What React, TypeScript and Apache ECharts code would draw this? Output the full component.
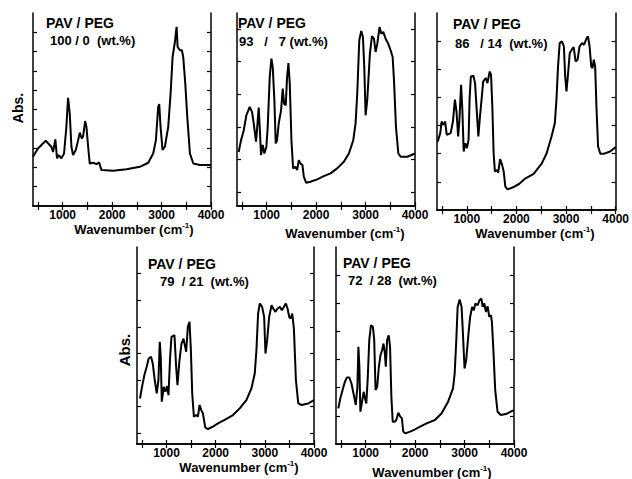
import React, { useEffect, useRef } from "react";
import * as echarts from "echarts";

const FONT = "'Liberation Sans', Arial, Helvetica, sans-serif";

const X_TICKS = [500, 1000, 1500, 2000, 2500, 3000, 3500, 4000];
const X_LABELS = [1000, 2000, 3000, 4000];

const P1_WN = [400, 500, 657, 771, 805, 852, 886, 920, 974, 1028, 1075, 1109, 1143, 1177, 1210, 1265, 1312, 1346, 1386, 1413, 1454, 1481, 1515, 1548, 1616, 1683, 1737, 1785, 2021, 2291, 2561, 2730, 2831, 2885, 2932, 2953, 2980, 3020, 3067, 3135, 3183, 3223, 3270, 3304, 3325, 3372, 3412, 3439, 3480, 3520, 3574, 3642, 3777, 4000];
const P1_ABS = [25.5, 29.8, 33.8, 30.7, 28, 34.5, 24.7, 26.4, 24.7, 27.2, 41, 56, 48, 30.7, 26.4, 29, 34, 38, 35, 36, 44, 41, 30.7, 22, 22.4, 21.7, 22.6, 18.6, 18.3, 19, 20.3, 22.4, 27.2, 34, 51.4, 52.8, 41, 29, 30.7, 41, 58.3, 77.2, 85, 92.8, 82.4, 80.7, 80.7, 77, 63.4, 46.2, 27.2, 22, 21.2, 21.2];

const P2_WN = [434, 481, 535, 589, 657, 704, 738, 785, 812, 839, 859, 886, 920, 954, 994, 1021, 1062, 1096, 1123, 1156, 1183, 1210, 1244, 1292, 1325, 1352, 1386, 1413, 1440, 1467, 1501, 1535, 1582, 1616, 1650, 1683, 1724, 1751, 1798, 1886, 2021, 2156, 2291, 2426, 2561, 2663, 2751, 2798, 2832, 2873, 2913, 2947, 2974, 3001, 3034, 3088, 3129, 3170, 3203, 3237, 3284, 3318, 3358, 3406, 3460, 3507, 3548, 3575, 3615, 3663, 3710, 3845, 4000];
const P2_ABS = [28, 34, 39, 47, 51.4, 48.8, 42.8, 33.3, 41.9, 51, 41, 26.4, 31.6, 27.2, 30.7, 41, 66.9, 76.4, 72, 54.8, 32.4, 34, 42.8, 49.7, 60.9, 53, 52.2, 66.9, 74, 63.4, 34, 19.5, 20.3, 18.6, 23.8, 22, 21.2, 15.2, 12, 12.6, 13.8, 15.5, 16.9, 19.5, 22.9, 27.2, 34, 42.8, 58.3, 85.9, 90.7, 87.6, 72, 47, 54.8, 79, 88, 86.7, 79.8, 84, 92.8, 89.3, 90.2, 86.7, 84, 80.7, 77.2, 65.2, 41, 27.2, 25.5, 25.5, 27.2];

const P3_WN = [413, 466, 492, 531, 564, 597, 675, 721, 761, 793, 826, 852, 885, 911, 938, 970, 1003, 1036, 1056, 1082, 1134, 1167, 1200, 1233, 1266, 1298, 1331, 1384, 1416, 1462, 1489, 1515, 1541, 1567, 1607, 1633, 1672, 1712, 1744, 1777, 1823, 1921, 2053, 2184, 2348, 2512, 2610, 2708, 2774, 2807, 2839, 2872, 2918, 2957, 2983, 3009, 3036, 3075, 3115, 3154, 3193, 3233, 3272, 3324, 3364, 3416, 3443, 3475, 3508, 3534, 3560, 3587, 3613, 3646, 3692, 3757, 3889, 4000];
const P3_ABS = [34.7, 39, 44.9, 43.2, 44.9, 38.1, 39, 44.9, 56, 50, 37.3, 45.8, 63.6, 50.8, 29.7, 33.9, 31.4, 35.6, 56, 67.8, 68.1, 64.4, 50.8, 37.3, 47.5, 56, 65.3, 67, 64.4, 70.3, 68.6, 52.5, 28.8, 19.5, 20.3, 19, 25.8, 22.9, 19.5, 11.9, 10.5, 11.4, 13.2, 16.1, 18.3, 23.7, 28.8, 37.3, 44, 56, 72.9, 84.7, 85.6, 83, 67.8, 60.2, 67.8, 79.7, 81.4, 82.7, 75.4, 76.3, 83, 84.7, 83.9, 87.3, 88.1, 83, 72.9, 72, 76.3, 72.9, 52.5, 32.2, 28.5, 28.5, 29.7, 31.9];

const P4_WN = [461, 502, 550, 597, 638, 686, 720, 761, 801, 836, 863, 883, 904, 944, 978, 1012, 1040, 1074, 1101, 1162, 1196, 1223, 1264, 1305, 1346, 1380, 1400, 1434, 1468, 1496, 1523, 1557, 1605, 1639, 1673, 1707, 1741, 1788, 1843, 1945, 2047, 2183, 2353, 2489, 2625, 2727, 2795, 2829, 2863, 2897, 2945, 2986, 3013, 3047, 3088, 3136, 3170, 3217, 3258, 3306, 3347, 3387, 3428, 3462, 3496, 3523, 3557, 3591, 3632, 3680, 3748, 3884, 4000];
const P4_ABS = [23.1, 29, 35, 39.2, 43.4, 44.3, 40.9, 32.4, 25.7, 32.4, 51.9, 44.3, 21.5, 29, 26.5, 29.4, 24.8, 44.3, 54.4, 55.2, 39.2, 29.9, 42.6, 51, 53.5, 49.3, 46.8, 59.5, 62, 47.6, 25.7, 13.9, 14.7, 13.9, 19.8, 17.2, 15.5, 8.4, 7.6, 8.8, 10.5, 12.2, 14.7, 18.1, 22.3, 28.2, 35.8, 47.6, 66.2, 71.3, 69.6, 64.5, 45.9, 52.7, 64.5, 70.4, 68.8, 67.1, 68.8, 69.6, 67.9, 69.6, 71.3, 68.8, 64.5, 63.7, 66.2, 58.6, 32.4, 20.6, 19.8, 20.6, 22.3];

const P5_WN = [447, 487, 533, 580, 620, 667, 713, 767, 800, 833, 853, 873, 893, 927, 960, 987, 1013, 1040, 1073, 1107, 1147, 1173, 1200, 1233, 1267, 1300, 1333, 1360, 1387, 1407, 1433, 1467, 1493, 1520, 1547, 1587, 1620, 1660, 1700, 1733, 1760, 1800, 1900, 2000, 2100, 2233, 2400, 2533, 2667, 2767, 2800, 2833, 2860, 2900, 2940, 2967, 3000, 3033, 3080, 3113, 3153, 3187, 3220, 3267, 3300, 3340, 3367, 3400, 3433, 3467, 3500, 3533, 3553, 3580, 3620, 3667, 3733, 3833, 4000];
const P5_ABS = [18.1, 23.1, 27.4, 31.6, 33.8, 33.8, 30.7, 24, 19.8, 29, 49.3, 39.2, 16.4, 21.5, 26.5, 23.1, 20.6, 32.4, 52.7, 60.3, 59.5, 52.7, 27.4, 29, 39.2, 45.1, 47.6, 51, 46.4, 39.2, 52.7, 55.2, 49.3, 24, 11.3, 11.3, 12.2, 15.9, 13.9, 13, 6.3, 5.4, 6.3, 7.4, 8.8, 10.5, 12.2, 15.5, 21.5, 28.2, 35.8, 52.7, 69.6, 73.3, 69.6, 56.1, 38.3, 42.6, 56.1, 64.5, 69.6, 67.9, 71.3, 70.4, 73, 73.8, 69.6, 71.3, 67, 69.9, 64.5, 65.4, 62, 49.3, 27.4, 16.4, 14.7, 15.2, 17.2];

const Y_TICKS = [
  [10, 20, 30, 40, 50, 60, 70, 80, 90],
  [7.1, 24, 40.9, 57.8, 74.8, 91.7],
  [14.3, 28.6, 42.9, 57.1, 71.4, 85.7],
  [5.7, 19.2, 32.6, 46, 59.5, 73, 86.5],
  [14.3, 28.6, 42.9, 57.1, 71.4, 85.7],
];

const TITLE_1 = "PAV / PEG";
const TITLE_2 = ["100 / 0  (wt.%)", "93   /   7 (wt.%)", "86   / 14  (wt.%)", "79  / 21  (wt.%)", "72  / 28  (wt.%)"];

const WN = [P1_WN, P2_WN, P3_WN, P4_WN, P5_WN];
const ABS = [P1_ABS, P2_ABS, P3_ABS, P4_ABS, P5_ABS];

const GRIDS = [
  { left: 33, top: 13, width: 178, height: 193 },
  { left: 237, top: 13, width: 178, height: 193 },
  { left: 437, top: 13, width: 182, height: 197 },
  { left: 137, top: 247, width: 177, height: 197 },
  { left: 336, top: 247, width: 178, height: 197 },
];
const TITLE_POS = [
  [46, 23, 50, 40],
  [238, 23, 239, 41],
  [453, 24, 455, 43],
  [148, 264, 160, 281],
  [343, 263, 348, 280],
];
const NAME_POS = [
  [134, 229],
  [345, 233],
  [535, 233],
  [239, 467],
  [432, 472],
];

export default function App() {
  const ref = useRef<HTMLDivElement>(null);
  useEffect(() => {
    const chart = echarts.init(ref.current!, undefined, { renderer: "svg" });
    const line = { show: true, lineStyle: { color: "#000", width: 1.5 } };
    const xAxis: any[] = [];
    const yAxis: any[] = [];
    const series: any[] = [];
    const graphic: any[] = [];
    GRIDS.forEach((g, i) => {
      xAxis.push({
        type: "value", gridIndex: i, min: 400, max: 4000, position: "bottom",
        axisLine: line, splitLine: { show: false },
        axisTick: { show: true, inside: true, length: 4, customValues: X_TICKS, lineStyle: { color: "#000", width: 1.2 } },
        axisLabel: {
          customValues: X_LABELS, color: "#000", fontFamily: FONT, fontWeight: "bold", fontSize: 12, margin: 3,
          formatter: (v: number) => String(v),
        },
      });
      xAxis.push({
        type: "value", gridIndex: i, min: 400, max: 4000, position: "top",
        axisLine: line, splitLine: { show: false },
        axisTick: { show: true, inside: true, length: 4, customValues: X_TICKS, lineStyle: { color: "#000", width: 1.2 } },
        axisLabel: { show: false },
      });
      yAxis.push({
        type: "value", gridIndex: i, min: 0, max: 100, position: "left",
        axisLine: line, splitLine: { show: false },
        axisTick: { show: true, inside: true, length: 4, customValues: Y_TICKS[i], lineStyle: { color: "#000", width: 1.2 } },
        axisLabel: { show: false },
      });
      yAxis.push({
        type: "value", gridIndex: i, min: 0, max: 100, position: "right",
        axisLine: line, splitLine: { show: false },
        axisTick: { show: true, inside: true, length: 4, customValues: Y_TICKS[i], lineStyle: { color: "#000", width: 1.2 } },
        axisLabel: { show: false },
      });
      series.push({
        type: "line", xAxisIndex: i * 2, yAxisIndex: i * 2, showSymbol: false, smooth: false,
        lineStyle: { color: "#000", width: 2 },
        data: WN[i].map((w, k) => [w, ABS[i][k]]),
      });
      const tp = TITLE_POS[i];
      graphic.push({ type: "text", x: tp[0], y: tp[1], style: { text: TITLE_1, font: `bold 14px ${FONT}`, fill: "#000", textVerticalAlign: "middle" } });
      graphic.push({ type: "text", x: tp[2], y: tp[3], style: { text: TITLE_2[i], font: `bold 13px ${FONT}`, fill: "#000", textVerticalAlign: "middle" } });
      const np = NAME_POS[i];
      graphic.push({
        type: "text", x: np[0], y: np[1],
        style: {
          text: "Wavenumber (cm{sup|-1})", fill: "#000", fontFamily: FONT, fontWeight: "bold", fontSize: 13,
          textAlign: "center", textVerticalAlign: "middle",
          rich: { sup: { fontSize: 8, fontWeight: "bold", fontFamily: FONT, fill: "#000", padding: [0, 0, 8, 0] } },
        },
      });
    });
    graphic.push({ type: "text", x: 18, y: 108, rotation: Math.PI / 2, style: { text: "Abs.", font: `bold 14px ${FONT}`, fill: "#000", textAlign: "center", textVerticalAlign: "middle" } });
    graphic.push({ type: "text", x: 124, y: 350, rotation: Math.PI / 2, style: { text: "Abs.", font: `bold 15px ${FONT}`, fill: "#000", textAlign: "center", textVerticalAlign: "middle" } });

    chart.setOption({
      animation: false,
      backgroundColor: "#fff",
      grid: GRIDS.map((g) => ({ ...g, containLabel: false })),
      xAxis, yAxis, series, graphic,
    });
    return () => chart.dispose();
  }, []);
  return <div ref={ref} style={{ position: "absolute", left: 0, top: 0, width: 632, height: 479 }} />;
}
